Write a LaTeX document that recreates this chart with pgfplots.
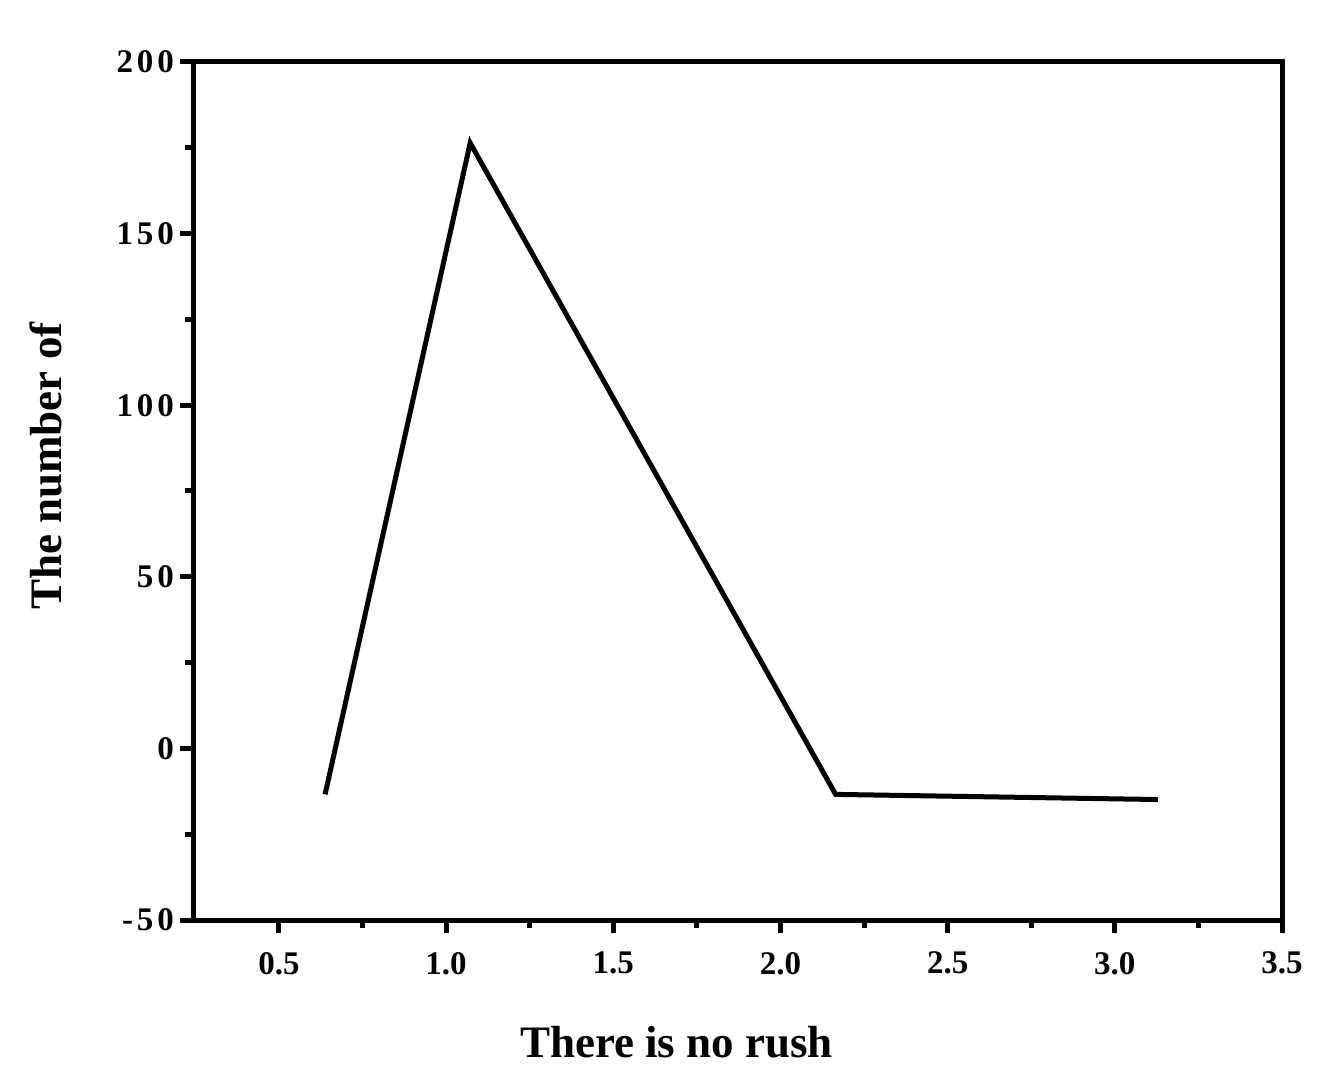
\documentclass[border=0pt]{standalone}
\usepackage{fontspec}
\setmainfont{Liberation Serif}
\newfontfamily\tickfont[LetterSpace=12]{Liberation Serif}
\usepackage{pgfplots}
\pgfplotsset{compat=1.18}
\begin{document}
\begin{tikzpicture}
\begin{axis}[
  scale only axis,
  width=544.5pt, height=429pt,
  xmin=0.243, xmax=3.5,
  ymin=-50, ymax=200,
  xtick={0.5,1.0,1.5,2.0,2.5,3.0,3.5},
  ytick={-50,0,50,100,150,200},
  minor tick num=1,
  tick align=outside,
  xtick pos=left, ytick pos=left,
  major tick length=6.5pt,
  minor tick length=4pt,
  axis line style={line width=2.5pt},
  every tick/.style={line width=2.5pt, black},
  every minor tick/.style={line width=2.5pt, black},
  /pgf/number format/assume math mode=true,
  xticklabel style={font=\fontsize{16.5}{18}\selectfont\bfseries, /pgf/number format/.cd, fixed, fixed zerofill, precision=1, /tikz/.cd, yshift=-6pt},
  yticklabel style={font=\tickfont\fontsize{16.5}{18}\selectfont\bfseries, /pgf/number format/.cd, fixed, precision=0, /tikz/.cd, xshift=0.5pt},
  xlabel={There is no rush},
  ylabel={The number of},
  label style={font=\fontsize{22.5}{26}\selectfont\bfseries},
  xlabel style={at={(axis description cs:0.444,-0.1608)}, anchor=base},
  ylabel style={at={(axis description cs:-0.1203,0.529)}, anchor=base, rotate=0},
]
\addplot[black, line width=2.5pt, mark=none] coordinates {
  (0.638,-13.4) (1.072,176.4) (2.165,-13.4) (3.129,-14.9)
};
\end{axis}
\pgfresetboundingbox
\path[use as bounding box] ([xshift=-96.5pt,yshift=-85.5pt]current axis.south west) rectangle ([xshift=24.5pt,yshift=31pt]current axis.north east);
\end{tikzpicture}
\end{document}
